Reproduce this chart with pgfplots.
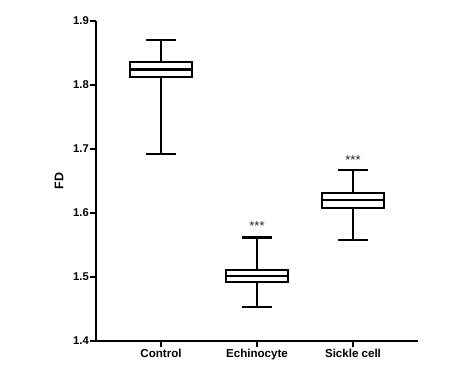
\documentclass[border=0pt]{standalone}
\usepackage{pgfplots}
\pgfplotsset{compat=1.18}
\usepgfplotslibrary{statistics}
\usepackage{fontspec}
\setmainfont{Liberation Sans}
\begin{document}
\begin{tikzpicture}
\useasboundingbox (-96bp,-46bp) rectangle (372bp,341bp);
\begin{axis}[
  scale only axis, width=322bp, height=320bp,
  xmin=-0.677, xmax=2.677, ymin=1.4, ymax=1.9,
  axis x line*=bottom, axis y line*=left,
  axis line style={line width=2bp, -},
  every tick/.style={black, line width=2bp},
  tick align=outside, major tick length=6bp,
  ytick={1.4,1.5,1.6,1.7,1.8,1.9},
  /pgf/number format/assume math mode=true,
  yticklabel style={/pgf/number format/fixed, /pgf/number format/precision=1, /pgf/number format/fixed zerofill, font=\bfseries\fontsize{11.3}{13}\selectfont, inner sep=1bp},
  xtick={0,1,2}, xticklabels={Control,Echinocyte,Sickle cell},
  xticklabel style={font=\bfseries\fontsize{11.6}{13}\selectfont, inner sep=2bp},
  ylabel={FD},
  ylabel style={font=\bfseries\fontsize{12.5}{14}\selectfont, at={(axis description cs:-0.115,0.5)}, anchor=center},
  clip=false,
  boxplot/draw direction=y,
]
\addplot+[boxplot prepared={draw position=0, lower whisker=1.692, lower quartile=1.8125, median=1.824, upper quartile=1.836, upper whisker=1.870}, boxplot/draw direction=y, boxplot/box extend=0.646, boxplot/whisker extend=0.31, draw=black, solid, line width=2.4bp, fill=white, mark=none] coordinates {};
\addplot+[boxplot prepared={draw position=1, lower whisker=1.453, lower quartile=1.492, median=1.502, upper quartile=1.511, upper whisker=1.562}, boxplot/draw direction=y, boxplot/box extend=0.646, boxplot/whisker extend=0.31, draw=black, solid, line width=2.4bp, fill=white, mark=none] coordinates {};
\addplot+[boxplot prepared={draw position=2, lower whisker=1.558, lower quartile=1.608, median=1.620, upper quartile=1.631, upper whisker=1.667}, boxplot/draw direction=y, boxplot/box extend=0.646, boxplot/whisker extend=0.31, draw=black, solid, line width=2.4bp, fill=white, mark=none] coordinates {};
\node[anchor=base, font=\fontsize{13}{14}\selectfont, inner sep=0pt, text=black!85] at (axis cs:1,1.573) {***};
\node[anchor=base, font=\fontsize{13}{14}\selectfont, inner sep=0pt, text=black!85] at (axis cs:2,1.676) {***};
\end{axis}
\end{tikzpicture}
\end{document}
